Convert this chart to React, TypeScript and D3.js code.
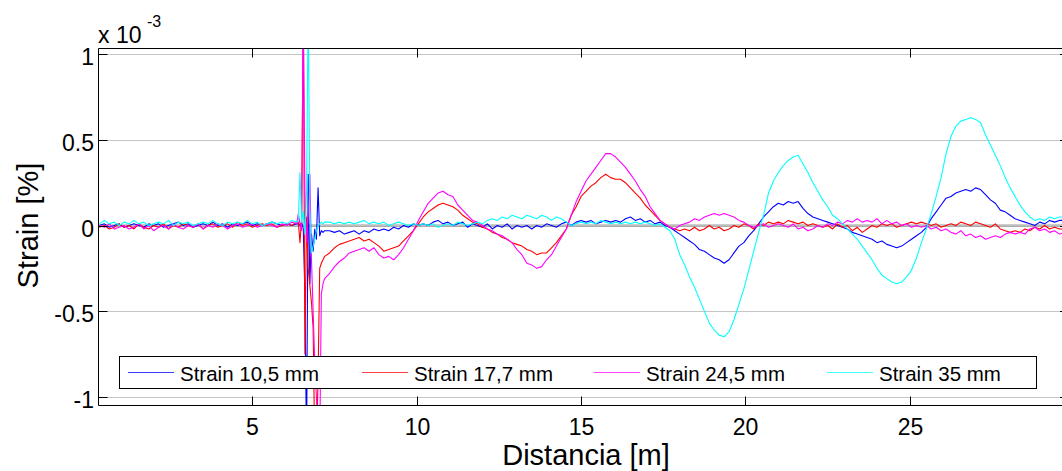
import React from "react";
import * as d3 from "d3";

// sample grids (start, step) for the three segments of every series
const segStarts = [0.35, 6.40, 7.35];
const segSteps = [0.15, 0.05, 0.15];

const seriesNames = ["Strain 10,5 mm", "Strain 17,7 mm", "Strain 24,5 mm", "Strain 35 mm"];
const seriesColors = ["#0000ff", "#ff0000", "#ff00ff", "#00ffff"];

const xTicks = [5, 10, 15, 20, 25];
const yTicks = [-1, -0.5, 0, 0.5, 1];
const yTickLabels = ["-1", "-0.5", "0", "0.5", "1"];

// ---- Strain 10,5 mm (blue) ----
const blueA = [
  0.00, 0.01, -0.01, 0.00, 0.01, -0.01, 0.00, 0.01, 0.00, -0.01,
  0.01, 0.00, 0.01, -0.01, 0.00, 0.01, 0.02, 0.00, 0.01, -0.01,
  0.00, 0.01, 0.00, 0.02, 0.00, 0.01, -0.01, 0.01, 0.00, 0.01,
  0.02, 0.00, 0.01, 0.00, 0.01, 0.02, 0.01, 0.00, 0.01, 0.00,
  0.01,
];
const blueB = [0.01, 0.00, 0.02, -0.02, -0.4, -1.3, 0.3, -0.34, -0.05, -0.15, -0.02, -0.08, 0.22, -0.06, -0.03, -0.04, -0.03];
const blueC = [
  -0.03, -0.04, -0.03, -0.05, -0.04, -0.03, -0.05, -0.03, -0.04, -0.02,
  -0.03, -0.02, -0.03, -0.01, -0.02, 0.00, -0.01, 0.01, 0.00, 0.01,
  0.00, 0.02, 0.03, 0.01, 0.02, 0.00, 0.01, 0.02, -0.01, 0.01,
  0.00, -0.01, 0.01, -0.02, 0.00, -0.01, 0.01, -0.02, 0.00, -0.01,
  0.00, -0.02, 0.00, -0.01, 0.01, 0.00, -0.01, 0.01, 0.02, 0.00,
  0.02, 0.03, 0.02, 0.03, 0.01, 0.02, 0.03, 0.02, 0.03, 0.02,
  0.04, 0.05, 0.03, 0.04, 0.02, 0.03, 0.01, 0.02, 0.00, -0.01,
  -0.03, -0.05, -0.07, -0.09, -0.11, -0.14, -0.15, -0.17, -0.19, -0.20,
  -0.22, -0.20, -0.16, -0.12, -0.10, -0.06, -0.03, 0.01, 0.05, 0.08,
  0.11, 0.13, 0.12, 0.14, 0.13, 0.14, 0.10, 0.07, 0.05, 0.04,
  0.03, 0.02, 0.01, 0.00, -0.01, -0.02, -0.04, -0.05, -0.06, -0.07,
  -0.08, -0.10, -0.09, -0.11, -0.12, -0.13, -0.12, -0.10, -0.08, -0.06,
  -0.04, -0.01, 0.04, 0.08, 0.12, 0.16, 0.17, 0.19, 0.20, 0.21,
  0.20, 0.22, 0.21, 0.18, 0.15, 0.13, 0.09, 0.08, 0.06, 0.04,
  0.03, 0.02, 0.01, 0.00, 0.02, 0.01, 0.03, 0.02, 0.03, 0.03,
];

// ---- Strain 17,7 mm (red) ----
const redA = [
  -0.01, 0.00, -0.02, -0.01, 0.01, -0.01, 0.00, -0.02, 0.01, -0.01,
  -0.02, 0.00, -0.01, 0.01, -0.02, 0.00, -0.01, 0.01, 0.00, -0.01,
  0.01, -0.02, 0.00, 0.01, -0.01, 0.00, 0.01, -0.01, 0.02, 0.00,
  0.01, -0.01, 0.00, 0.01, 0.00, 0.01, -0.01, 0.00, 0.01, 0.00,
  0.02,
];
const redB = [0.02, -0.10, 0.05, 1.3, -0.75, 0.05, -0.25, -0.35, -0.45, -0.6, -1.3, -1.3, -0.9, -0.25, -0.22, -0.20, -0.18];
const redC = [
  -0.16, -0.13, -0.11, -0.10, -0.09, -0.08, -0.07, -0.09, -0.08, -0.10,
  -0.12, -0.15, -0.14, -0.13, -0.12, -0.09, -0.06, -0.03, 0.01, 0.05,
  0.08, 0.10, 0.12, 0.13, 0.12, 0.11, 0.09, 0.06, 0.04, 0.02,
  0.01, -0.01, -0.02, -0.04, -0.05, -0.07, -0.08, -0.10, -0.11, -0.12,
  -0.14, -0.15, -0.17, -0.16, -0.16, -0.13, -0.10, -0.06, -0.02, 0.06,
  0.11, 0.17, 0.20, 0.23, 0.25, 0.28, 0.30, 0.28, 0.27, 0.27,
  0.25, 0.22, 0.19, 0.16, 0.12, 0.09, 0.06, 0.03, 0.01, -0.01,
  -0.02, -0.03, -0.02, -0.03, -0.01, -0.03, -0.02, 0.00, -0.02, -0.01,
  -0.03, -0.02, 0.00, -0.01, 0.01, 0.00, -0.02, 0.01, 0.00, 0.02,
  0.01, 0.02, 0.01, 0.03, 0.02, 0.01, 0.02, 0.00, 0.01, 0.00,
  -0.01, 0.00, -0.02, 0.01, -0.01, 0.00, -0.03, -0.01, -0.04, -0.02,
  0.00, -0.01, 0.01, 0.00, 0.01, -0.01, 0.00, 0.01, 0.02, 0.01,
  0.02, 0.01, 0.00, 0.01, -0.01, 0.00, 0.01, 0.00, 0.02, 0.01,
  0.00, 0.02, 0.01, 0.00, -0.01, 0.01, -0.02, -0.03, -0.04, -0.03,
  -0.04, -0.02, -0.03, -0.01, -0.02, 0.00, -0.02, -0.01, -0.02, -0.02,
];

// ---- Strain 24,5 mm (magenta) ----
const magentaA = [
  0.00, -0.01, 0.01, -0.02, -0.01, 0.00, -0.02, -0.01, 0.01, -0.02,
  0.00, -0.03, -0.01, 0.00, -0.02, 0.01, -0.01, -0.02, 0.00, -0.01,
  0.01, -0.02, 0.00, -0.01, 0.01, 0.00, -0.02, 0.00, 0.01, -0.01,
  0.00, 0.01, -0.01, 0.00, 0.01, 0.00, -0.01, 0.01, 0.00, 0.02,
  0.01,
];
const magentaB = [0.07, 0.01, -0.03, 1.3, 0.2, -0.1, 0.05, 0.3, -0.2, -0.5, -0.8, -1.0, -1.3, -1.3, -0.4, -0.34, -0.31];
const magentaC = [
  -0.28, -0.24, -0.21, -0.19, -0.16, -0.15, -0.14, -0.13, -0.15, -0.13,
  -0.17, -0.19, -0.18, -0.20, -0.17, -0.13, -0.08, -0.03, 0.03, 0.08,
  0.13, 0.16, 0.19, 0.20, 0.18, 0.17, 0.12, 0.09, 0.06, 0.03,
  0.02, 0.00, -0.02, -0.03, -0.05, -0.06, -0.08, -0.10, -0.14, -0.17,
  -0.22, -0.23, -0.25, -0.24, -0.20, -0.17, -0.12, -0.07, -0.02, 0.06,
  0.14, 0.20, 0.26, 0.30, 0.34, 0.38, 0.42, 0.42, 0.40, 0.37,
  0.34, 0.30, 0.26, 0.21, 0.17, 0.11, 0.07, 0.03, 0.01, -0.01,
  -0.02, 0.00, 0.01, 0.02, 0.04, 0.03, 0.05, 0.06, 0.07, 0.06,
  0.07, 0.06, 0.05, 0.03, 0.02, 0.00, -0.01, 0.00, 0.01, -0.01,
  0.00, 0.01, 0.00, -0.01, 0.01, -0.02, -0.01, -0.03, -0.02, 0.00,
  -0.01, 0.01, 0.00, 0.02, 0.01, 0.03, 0.02, 0.04, 0.02, 0.03,
  0.02, 0.04, 0.01, 0.03, 0.01, 0.02, 0.00, 0.01, -0.01, 0.00,
  -0.01, 0.00, -0.02, -0.01, -0.03, -0.02, -0.04, -0.05, -0.03, -0.06,
  -0.05, -0.07, -0.06, -0.08, -0.07, -0.06, -0.07, -0.05, -0.04, -0.05,
  -0.04, -0.05, -0.02, -0.01, -0.03, -0.02, -0.04, -0.03, -0.05, -0.04,
];

// ---- Strain 35 mm (cyan) ----
const cyanA = [
  0.01, 0.03, 0.01, 0.02, 0.00, 0.02, 0.01, 0.03, 0.01, 0.02,
  0.00, 0.01, 0.02, 0.01, 0.03, 0.00, 0.02, 0.01, 0.02, 0.00,
  0.01, 0.02, 0.01, 0.03, 0.01, 0.00, 0.02, 0.01, 0.02, 0.01,
  0.03, 0.01, 0.02, 0.00, 0.01, 0.02, 0.01, 0.02, 0.01, 0.03,
  0.02,
];
const cyanB = [0.03, 0.31, 0.02, 0.08, -0.05, 0.2, 1.3, 0.1, -0.16, -0.12, -0.08, -0.03, 0.00, 0.01, 0.02, 0.01, 0.02];
const cyanC = [
  0.02, 0.01, 0.02, 0.01, 0.02, 0.01, 0.02, 0.03, 0.01, 0.02,
  0.01, 0.02, 0.00, 0.01, 0.02, 0.01, 0.00, 0.01, 0.00, 0.01,
  0.00, 0.01, -0.01, 0.00, 0.01, 0.00, 0.02, 0.01, 0.00, 0.01,
  0.02, 0.01, 0.03, 0.04, 0.03, 0.05, 0.04, 0.06, 0.05, 0.04,
  0.06, 0.05, 0.04, 0.06, 0.05, 0.03, 0.05, 0.04, 0.02, 0.00,
  0.01, 0.02, 0.01, 0.02, 0.01, 0.03, 0.02, 0.01, 0.02, 0.01,
  0.02, 0.01, 0.02, 0.01, 0.02, 0.01, 0.00, 0.01, -0.01, -0.03,
  -0.08, -0.17, -0.23, -0.30, -0.36, -0.43, -0.50, -0.57, -0.61, -0.64,
  -0.65, -0.62, -0.55, -0.46, -0.37, -0.26, -0.15, -0.04, 0.06, 0.19,
  0.26, 0.31, 0.35, 0.38, 0.40, 0.41, 0.36, 0.31, 0.25, 0.20,
  0.15, 0.11, 0.06, 0.04, 0.01, -0.02, -0.05, -0.08, -0.12, -0.16,
  -0.20, -0.25, -0.29, -0.31, -0.33, -0.34, -0.33, -0.30, -0.26, -0.19,
  -0.10, -0.02, 0.07, 0.17, 0.28, 0.42, 0.52, 0.58, 0.61, 0.62,
  0.63, 0.62, 0.60, 0.53, 0.47, 0.41, 0.35, 0.28, 0.22, 0.17,
  0.12, 0.08, 0.05, 0.03, 0.04, 0.03, 0.05, 0.04, 0.05, 0.05,
];

const seriesSegments = [
  [blueA, blueB, blueC],
  [redA, redB, redC],
  [magentaA, magentaB, magentaC],
  [cyanA, cyanB, cyanC],
];

// legend entry positions (start of sample line)
const legendLineX = [128, 362, 594, 827];

const W = 1062;
const H = 471;
const plotLeft = 98.5;
const plotRight = 1069;
const plotTop = 48.5;
const plotBottom = 405.5;

function buildPoints(segs: number[][]): [number, number][] {
  const pts: [number, number][] = [];
  segs.forEach((vals, s) => {
    vals.forEach((v, i) => {
      pts.push([+(segStarts[s] + i * segSteps[s]).toFixed(3), v]);
    });
  });
  return pts;
}

export default function App() {
  const x = d3.scaleLinear().domain([0.322, 29.84]).range([plotLeft, plotRight]);
  const y = d3.scaleLinear().domain([-1.054, 1.037]).range([plotBottom + 0.5, plotTop - 0.5]);
  const line = d3
    .line<[number, number]>()
    .x((d) => x(d[0]))
    .y((d) => y(d[1]));

  const font = "Arial, 'Liberation Sans', Helvetica, sans-serif";
  const tickLen = 9;

  return (
    <svg
      width={W}
      height={H}
      style={{ position: "absolute", left: 0, top: 0, background: "#fff", overflow: "hidden" }}
      fontFamily={font}
    >
      <defs>
        <clipPath id="plotclip">
          <rect x={plotLeft} y={plotTop} width={plotRight - plotLeft} height={plotBottom - plotTop} />
        </clipPath>
      </defs>
      <rect x={0} y={0} width={W} height={H} fill="#fff" />

      {/* gridlines */}
      <line x1={plotLeft} x2={plotRight} y1={y(0)} y2={y(0)} stroke="#bdbdbd" strokeWidth={2.5} />
      {yTicks.map((t) => (
        <line
          key={"g" + t}
          x1={plotLeft}
          x2={plotRight}
          y1={Math.round(y(t)) + 0.5}
          y2={Math.round(y(t)) + 0.5}
          stroke="#8a8a8a"
          strokeWidth={1}
          strokeDasharray="1,1"
        />
      ))}

      {/* data */}
      <g clipPath="url(#plotclip)">
        {seriesSegments.map((segs, i) => (
          <path
            key={seriesNames[i]}
            d={line(buildPoints(segs)) || ""}
            fill="none"
            stroke={seriesColors[i]}
            strokeWidth={1.1}
            strokeLinejoin="round"
          />
        ))}
      </g>

      {/* axes frame */}
      <line x1={plotLeft} x2={plotRight} y1={plotTop} y2={plotTop} stroke="#000" />
      <line x1={plotLeft} x2={plotRight} y1={plotBottom} y2={plotBottom} stroke="#000" />
      <line x1={plotLeft} x2={plotLeft} y1={plotTop} y2={plotBottom} stroke="#000" />
      <line x1={plotRight} x2={plotRight} y1={plotTop} y2={plotBottom} stroke="#000" />

      {/* x ticks */}
      {xTicks.map((t) => {
        const px = Math.round(x(t)) + 0.5;
        return (
          <g key={"x" + t}>
            <line x1={px} x2={px} y1={plotBottom} y2={plotBottom - tickLen} stroke="#000" />
            <line x1={px} x2={px} y1={plotTop} y2={plotTop + tickLen} stroke="#000" />
            <text x={px} y={435} fontSize={23} textAnchor="middle" fill="#000">
              {t}
            </text>
          </g>
        );
      })}

      {/* y ticks */}
      {yTicks.map((t, i) => {
        const py = Math.round(y(t)) + 0.5;
        return (
          <g key={"y" + t}>
            <line x1={plotLeft} x2={plotLeft + tickLen} y1={py} y2={py} stroke="#000" />
            <line x1={plotRight} x2={plotRight - tickLen} y1={py} y2={py} stroke="#000" />
            <text x={94} y={py + 10.5} fontSize={23} textAnchor="end" fill="#000">
              {yTickLabels[i]}
            </text>
          </g>
        );
      })}

      {/* exponent */}
      <text x={98} y={42.5} fontSize={23} fill="#000">
        x 10
      </text>
      <text x={147} y={27} fontSize={16} fill="#000">
        -3
      </text>

      {/* axis labels */}
      <text x={586} y={465} fontSize={29} textAnchor="middle" fill="#000">
        Distancia [m]
      </text>
      <text
        transform={`translate(38,${y(0)}) rotate(-90)`}
        fontSize={29}
        textAnchor="middle"
        fill="#000"
      >
        Strain [%]
      </text>

      {/* legend */}
      <rect x={119.5} y={356.5} width={917} height={32} fill="#fff" stroke="#000" strokeWidth={1} />
      {seriesNames.map((name, i) => (
        <g key={"l" + i}>
          <line
            x1={legendLineX[i]}
            x2={legendLineX[i] + 46}
            y1={372.5}
            y2={372.5}
            stroke={seriesColors[i]}
            strokeOpacity={0.75}
            strokeWidth={1}
          />
          <text x={legendLineX[i] + 52} y={380.5} fontSize={20.5} fill="#000">
            {name}
          </text>
        </g>
      ))}
    </svg>
  );
}
